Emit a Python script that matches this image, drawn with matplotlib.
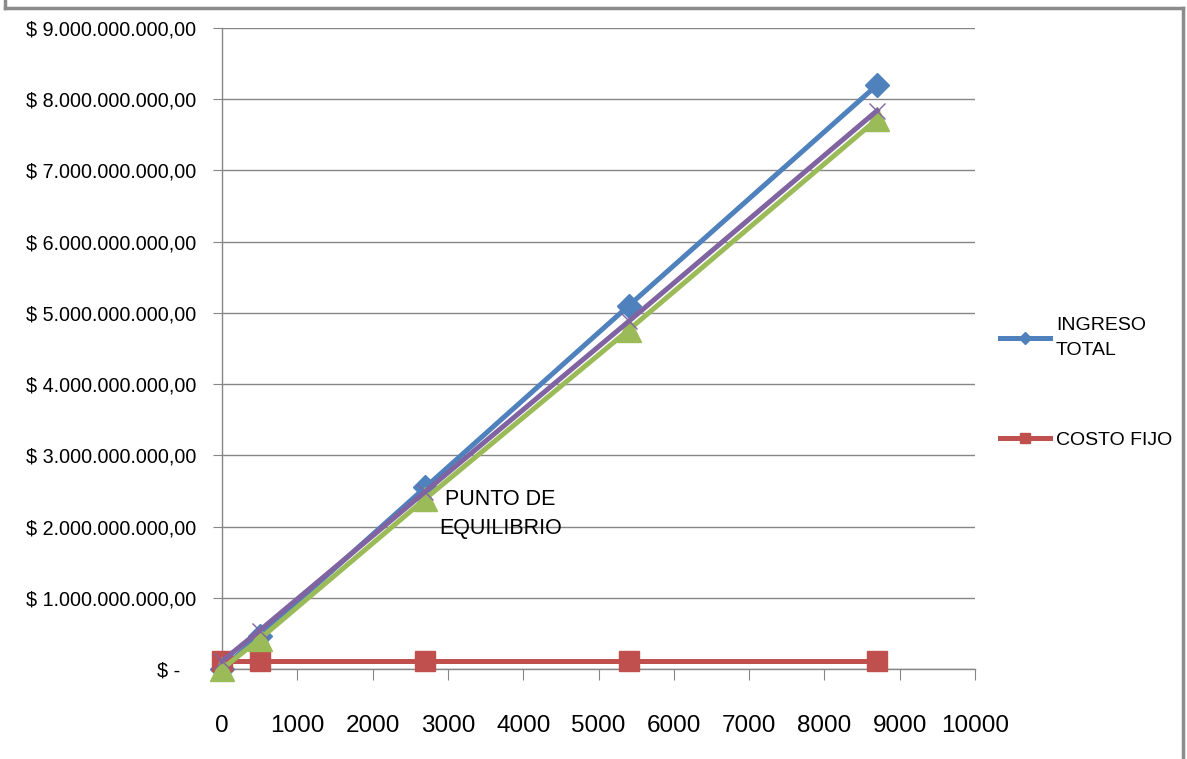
import matplotlib
matplotlib.use("Agg")
import matplotlib.pyplot as plt
from matplotlib.lines import Line2D
from matplotlib.ticker import FuncFormatter, MultipleLocator

plt.rcParams['font.family'] = ['Liberation Sans', 'DejaVu Sans']

# data
unidades = [0, 500, 2700, 5400, 8700]
ingreso_total = [0, 0.47e9, 2.55e9, 5.10e9, 8.20e9]
costo_fijo = [0.11e9, 0.11e9, 0.11e9, 0.11e9, 0.11e9]
costo_variable = [0, 0.42e9, 2.39e9, 4.76e9, 7.72e9]
costo_total = [0.11e9, 0.54e9, 2.49e9, 4.88e9, 7.84e9]

AZUL = '#4F81BD'
ROJO = '#C0504D'
VERDE = '#9BBB59'
MORADO = '#8064A2'
GRIS = '#868686'


def pesos(v, pos):
    if v == 0:
        return '$ -   '
    s = f'{v:,.2f}'.replace(',', 'X').replace('.', ',').replace('X', '.')
    return '$ ' + s


fig = plt.figure(figsize=(11.87, 7.59), dpi=100)
ax = fig.add_axes([222 / 1187, 1 - 669 / 759, 753 / 1187, 641 / 759])

l1, = ax.plot(unidades, ingreso_total, color=AZUL, lw=3.6, marker='D', ms=12,
              label='INGRESO\nTOTAL', zorder=3, clip_on=False)
l2, = ax.plot(unidades, costo_fijo, color=ROJO, lw=3.6, marker='s', ms=14,
              label='COSTO FIJO', zorder=4, clip_on=False)
ax.plot(unidades, costo_variable, color=VERDE, lw=3.6, marker='^', ms=17,
        label='COSTO VARIABLE', zorder=5, clip_on=False)
ax.plot(unidades, costo_total, color=MORADO, lw=3.6, marker='x', ms=12, mew=1,
        label='COSTO TOTAL', zorder=6, clip_on=False)

ax.set_xlim(0, 10000)
ax.set_ylim(0, 9e9)
ax.xaxis.set_major_locator(MultipleLocator(1000))
ax.yaxis.set_major_locator(MultipleLocator(1e9))
ax.yaxis.set_major_formatter(FuncFormatter(pesos))
ax.grid(axis='y', color=GRIS, lw=1)
ax.set_axisbelow(True)
for lado in ['top', 'right']:
    ax.spines[lado].set_visible(False)
for lado in ['left', 'bottom']:
    ax.spines[lado].set_color(GRIS)
    ax.spines[lado].set_linewidth(1)
ax.tick_params(axis='x', direction='out', length=8, color=GRIS, labelsize=17.5, pad=25)
ax.tick_params(axis='y', direction='out', length=6.5, color=GRIS, labelsize=14.2, pad=12)
ax.xaxis.set_major_formatter(FuncFormatter(lambda v, p: f'{int(v)}'))

ax.text(3700, 2.18e9, 'PUNTO DE\nEQUILIBRIO', ha='center', va='center',
        fontsize=15.5, linespacing=1.5)

fig.legend(handles=[l1, l2], loc='center left', bbox_to_anchor=(982 / 1187, 1 - 383 / 759),
           frameon=False, fontsize=14, labelspacing=3.7, handlelength=2.6,
           handletextpad=0.3, markerscale=0.5)
for t in fig.legends[0].get_texts():
    t.set_linespacing(1.6)

# marco exterior del grafico
for xs, ys in [([5, 5], [0, 8]), ([5, 1183], [8, 8]), ([1183, 1183], [8, 759])]:
    fig.add_artist(Line2D([x / 1187 for x in xs], [1 - y / 759 for y in ys],
                          color='#8c8c8c', lw=2.5))

fig.savefig('out.png', dpi=100)
